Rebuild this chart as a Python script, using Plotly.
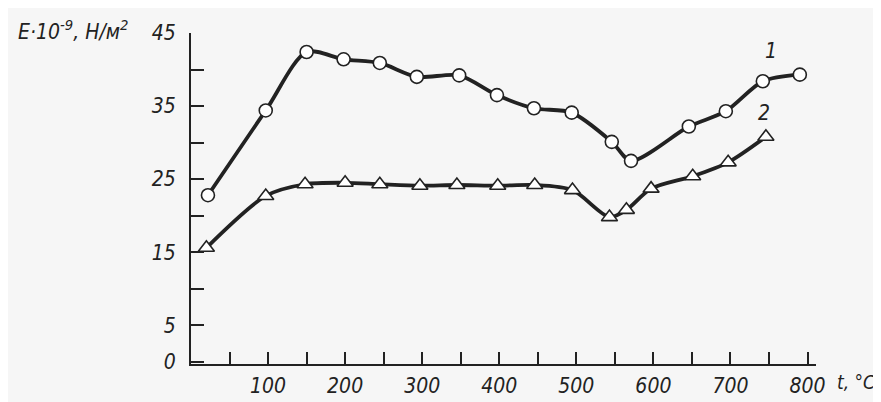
import plotly.graph_objects as go

# Curve 1 (circles)
t1 = [22, 97, 150, 198, 245, 293, 348, 397, 445, 494, 546, 571, 646, 694, 742, 790]
e1 = [22.8, 34.4, 42.4, 41.4, 40.9, 39.0, 39.2, 36.5, 34.7, 34.1, 30.1, 27.5, 32.2, 34.3, 38.4, 39.3]

# Curve 2 (triangles)
t2 = [20, 97, 148, 200, 245, 297, 345, 398, 446, 495, 543, 565, 597, 651, 697, 746]
e2 = [15.6, 22.7, 24.3, 24.5, 24.3, 24.1, 24.2, 24.1, 24.2, 23.5, 19.8, 20.8, 23.7, 25.4, 27.3, 30.8]

y_tickvals = [0, 5, 10, 15, 20, 25, 30, 35, 40, 45]
y_ticktext = ["0", "5", "", "15", "", "25", "", "35", "", "45"]
x_tickvals = list(range(50, 801, 50))
x_ticktext = [str(v) if v % 100 == 0 else "" for v in x_tickvals]

INK = "#222222"
BG = "#f6f6f6"
FONT = "DejaVu Sans Condensed, Liberation Sans Narrow, DejaVu Sans, sans-serif"

fig = go.Figure()
fig.add_trace(go.Scatter(
    x=t1, y=e1, mode="lines+markers",
    line=dict(color=INK, width=3.8, shape="spline", smoothing=0.8),
    marker=dict(symbol="circle", size=13, color="white", line=dict(color=INK, width=1.6)),
    showlegend=False,
))
fig.add_trace(go.Scatter(
    x=t2, y=e2, mode="lines+markers",
    line=dict(color=INK, width=3.8, shape="spline", smoothing=0.8),
    marker=dict(symbol="triangle-up", size=14, color="white", line=dict(color=INK, width=1.6)),
    showlegend=False,
))

tick_font = dict(family=FONT, size=21, color=INK, style="italic")

fig.update_layout(
    width=881, height=402,
    margin=dict(l=183, r=73, t=25, b=34),
    paper_bgcolor=BG, plot_bgcolor=BG,
    font=dict(family=FONT, size=21, color=INK, style="italic"),
    xaxis=dict(
        range=[0, 811], showgrid=False, zeroline=False,
        showline=True, linecolor=INK, linewidth=2,
        ticks="inside", ticklen=12, tickwidth=1.6, tickcolor=INK,
        tickvals=x_tickvals, ticktext=x_ticktext,
        tickfont=tick_font, ticklabelstandoff=2,
    ),
    yaxis=dict(
        range=[-0.3, 45], showgrid=False, zeroline=False,
        showline=True, linecolor=INK, linewidth=2,
        ticks="inside", ticklen=13, tickwidth=1.6, tickcolor=INK,
        tickvals=y_tickvals, ticktext=y_ticktext,
        tickfont=tick_font, ticklabelstandoff=9,
    ),
    annotations=[
        dict(text="E·10<sup>-9</sup>, Н/м<sup>2</sup>", xref="paper", yref="paper",
             x=-0.28, y=1.01, xanchor="left", yanchor="middle", showarrow=False,
             font=dict(family=FONT, size=21, color=INK, style="italic")),
        dict(text="t, °C", xref="paper", yref="paper",
             x=1.03, y=-0.055, xanchor="left", yanchor="middle", showarrow=False,
             font=dict(family=FONT, size=19, color=INK, style="italic")),
        dict(text="1", x=752, y=42.6, xref="x", yref="y", showarrow=False,
             font=dict(family=FONT, size=21, color=INK, style="italic")),
        dict(text="2", x=743, y=34.1, xref="x", yref="y", showarrow=False,
             font=dict(family=FONT, size=21, color=INK, style="italic")),
    ],
)

fig.write_html("out.html")
